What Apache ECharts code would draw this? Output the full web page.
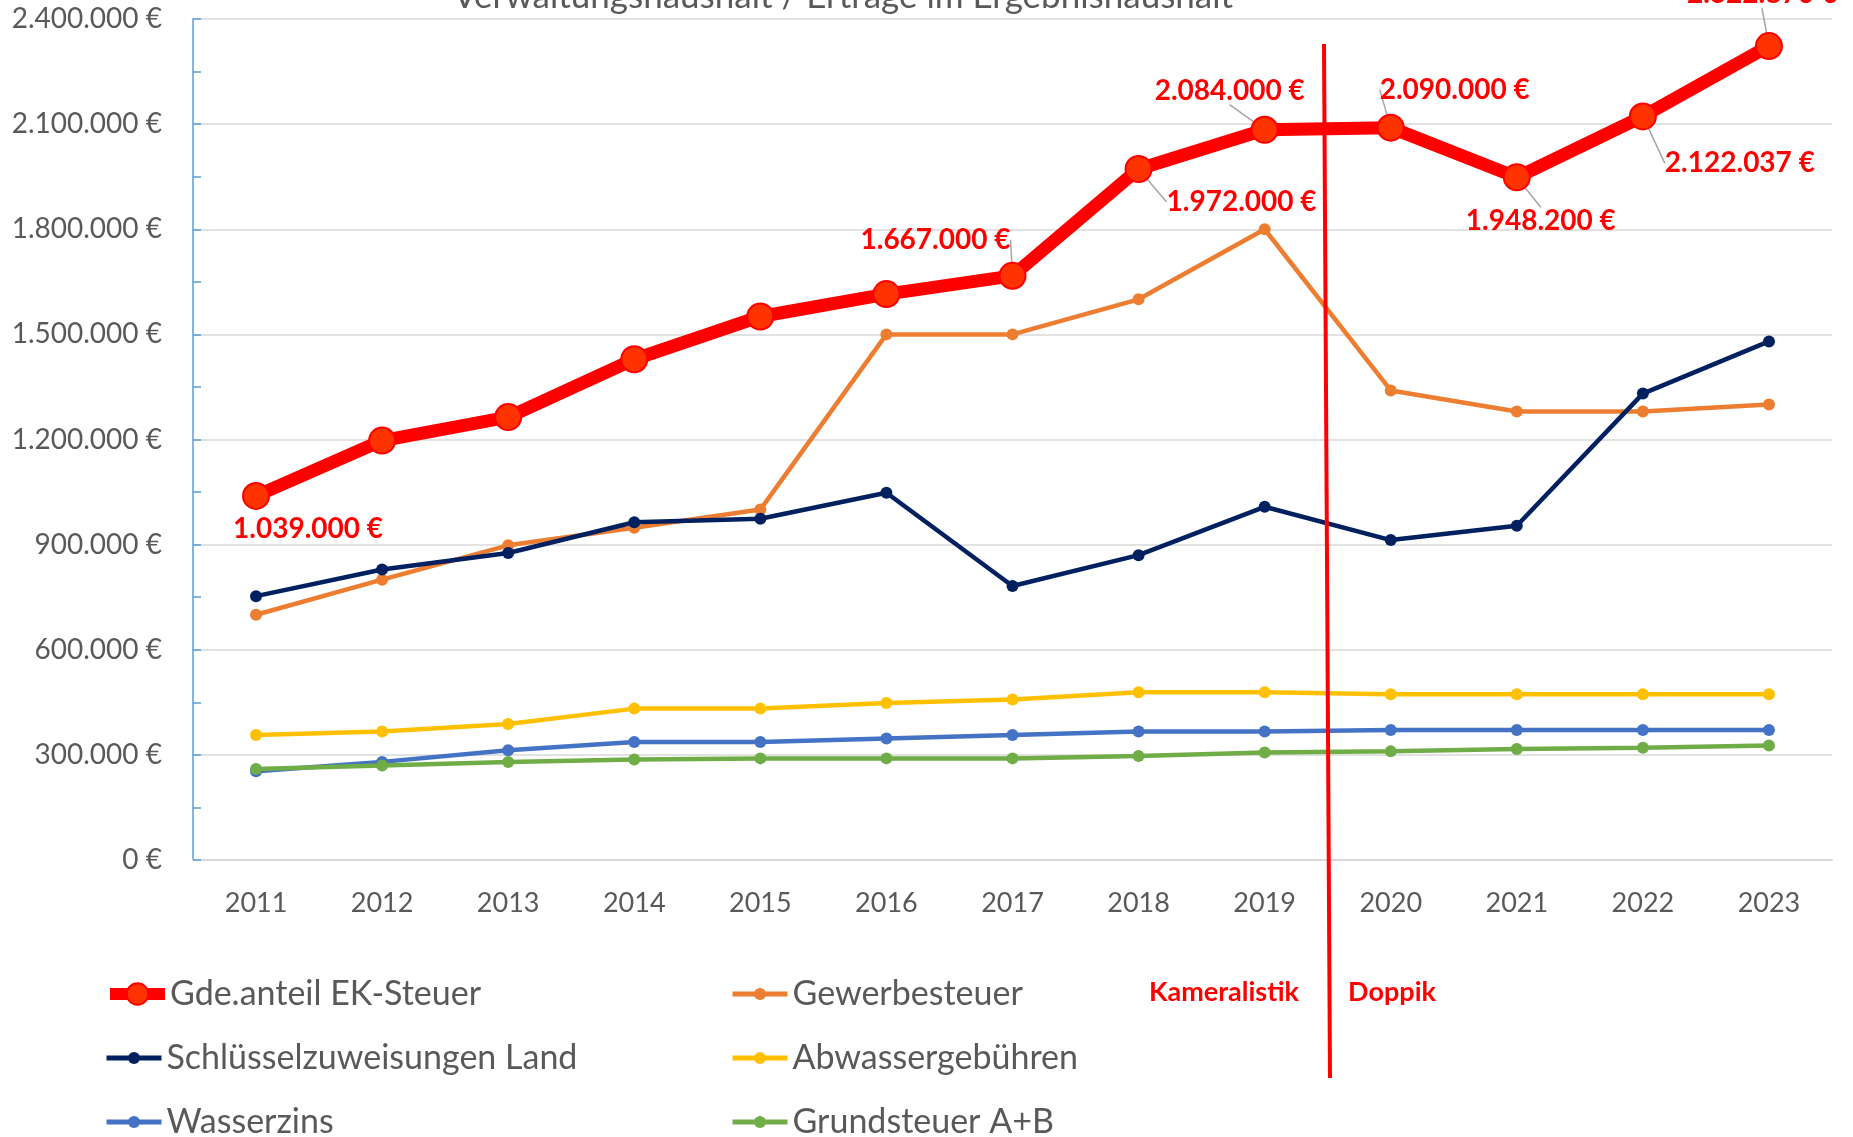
<!DOCTYPE html>
<html lang="de">
<head>
<meta charset="UTF-8">
<title>Erträge</title>
<script src="https://cdn.jsdelivr.net/npm/echarts@6/dist/echarts.min.js"></script>
<style>
  html, body { margin: 0; padding: 0; background: #fff; }
  #main { width: 1853px; height: 1137px; }
</style>
</head>
<body>
<div id="main"></div>
<script type="text/javascript">
// Jahre
var years = ['2011', '2012', '2013', '2014', '2015', '2016', '2017', '2018', '2019', '2020', '2021', '2022', '2023'];

// Werte in Euro
var ekSteuer = [1039000, 1197000, 1264000, 1429000, 1551000, 1615000, 1667000, 1972000, 2084000, 2090000, 1948200, 2122037, 2322870];
var gewerbesteuer = [700000, 800000, 898000, 948000, 1000000, 1500000, 1500000, 1600000, 1800000, 1340000, 1280000, 1280000, 1300000];
var schluessel = [753000, 829000, 876000, 964000, 974000, 1048000, 782000, 870000, 1008000, 913000, 954000, 1331000, 1480000];
var abwasser = [357000, 367000, 388000, 432000, 432000, 448000, 458000, 479000, 479000, 473000, 473000, 473000, 473000];
var wasserzins = [253000, 280000, 313000, 337000, 337000, 347000, 357000, 367000, 367000, 371000, 371000, 371000, 371000];
var grundsteuer = [260000, 270000, 280000, 287000, 290000, 290000, 290000, 297000, 307000, 310000, 317000, 320000, 327000];

// welche Punkte der EK-Steuer beschriftet sind
var ekLabelled = [true, false, false, false, false, false, true, true, true, true, true, true, true];
// Verschiebung der Beschriftung (px)
var ekLabelShift = [[52, 33], [0, 0], [0, 0], [0, 0], [0, 0], [0, 0], [-77, -36], [103, 33], [-35, -39], [64, -38], [24, 44], [97, 47], [-7, -52]];

var chartDom = document.getElementById('main');
var myChart = echarts.init(chartDom);
var option;

function euro(v) {
    return String(v).replace(/\B(?=(\d{3})+(?!\d))/g, '.') + ' €';
}

var FONT = 'Lato';
var GREY = '#595959';

function smallLine(name, color, values) {
    return {
        name: name,
        type: 'line',
        data: values,
        symbol: 'circle',
        symbolSize: 12,
        lineStyle: { color: color, width: 4.5 },
        itemStyle: { color: color },
        emphasis: { disabled: true }
    };
}

// eine Legende pro Eintrag: [Name, Spalte, Zeile]
var legendItems = [
    ['Gde.anteil EK-Steuer', 0, 0],
    ['Gewerbesteuer', 1, 0],
    ['Schlüsselzuweisungen Land', 0, 1],
    ['Abwassergebühren', 1, 1],
    ['Wasserzins', 0, 2],
    ['Grundsteuer A+B', 1, 2]
];

function makeLegend(item, i) {
    var big = i === 0;
    return {
        data: [item[0]],
        left: item[1] === 0 ? 99 : 725,
        top: 969 + item[2] * 64,
        itemWidth: 55,
        itemHeight: big ? 27 : 15,
        lineStyle: { width: big ? 12 : 5 },
        textStyle: { fontFamily: FONT, fontSize: 34, color: GREY, lineHeight: 40 }
    };
}

option = {
    animation: false,
    title: {
        text: 'Verwaltungshaushalt / Erträge im Ergebnishaushalt',
        left: 838,
        textAlign: 'center',
        top: -26,
        textStyle: { fontFamily: FONT, fontSize: 35, fontWeight: 'normal', color: GREY }
    },
    grid: { left: 193, right: 21, top: 19, bottom: 277 },
    legend: legendItems.map(makeLegend),
    xAxis: {
        type: 'category',
        data: years,
        boundaryGap: true,
        axisLine: { lineStyle: { color: '#D9D9D9', width: 2 } },
        axisTick: { show: false },
        axisLabel: { fontFamily: FONT, fontSize: 27, color: GREY, margin: 30 }
    },
    yAxis: {
        type: 'value',
        min: 0,
        max: 2400000,
        interval: 300000,
        axisLine: { show: true, lineStyle: { color: '#5B9BD5', width: 1.5 } },
        axisTick: { show: true, inside: true, length: 8, lineStyle: { color: '#5B9BD5', width: 1.5 } },
        minorTick: { show: true, splitNumber: 2, length: 8, lineStyle: { color: '#5B9BD5', width: 1.5 } },
        splitLine: { lineStyle: { color: '#D9D9D9', width: 1.5 } },
        axisLabel: { fontFamily: FONT, fontSize: 28, color: GREY, margin: 31, formatter: euro }
    },
    series: [
        {
            name: 'Gde.anteil EK-Steuer',
            type: 'line',
            z: 5,
            data: ekSteuer.map(function (v, i) {
                return { value: v, label: { show: ekLabelled[i] }, labelLine: { show: ekLabelled[i] && i > 0 } };
            }),
            symbol: 'circle',
            symbolSize: 26,
            lineStyle: { color: '#FF0000', width: 13 },
            itemStyle: { color: '#FF3300', borderColor: '#FF0000', borderWidth: 2 },
            label: {
                show: true,
                position: 'inside',
                formatter: function (p) { return euro(p.value); },
                fontFamily: FONT,
                fontSize: 28,
                fontWeight: 'bold',
                color: '#FF0000'
            },
            labelLine: { show: true, lineStyle: { color: '#A6A6A6', width: 1.5 } },
            labelLayout: function (p) {
                var s = ekLabelShift[p.dataIndex];
                return { dx: s[0], dy: s[1] };
            },
            emphasis: { disabled: true }
        },
        smallLine('Gewerbesteuer', '#ED7D31', gewerbesteuer),
        smallLine('Schlüsselzuweisungen Land', '#002060', schluessel),
        smallLine('Abwassergebühren', '#FFC000', abwasser),
        smallLine('Wasserzins', '#4472C4', wasserzins),
        smallLine('Grundsteuer A+B', '#70AD47', grundsteuer)
    ],
    graphic: [
        {
            type: 'line',
            z: 100,
            shape: { x1: 1324, y1: 44, x2: 1330, y2: 1078 },
            style: { stroke: '#FF0000', lineWidth: 4 }
        },
        {
            type: 'text',
            z: 100,
            x: 1224,
            y: 992,
            style: { text: 'Kameralistik', fill: '#FF0000', font: 'bold 27px Lato', align: 'center', verticalAlign: 'middle' }
        },
        {
            type: 'text',
            z: 100,
            x: 1392,
            y: 992,
            style: { text: 'Doppik', fill: '#FF0000', font: 'bold 27px Lato', align: 'center', verticalAlign: 'middle' }
        }
    ]
};

option && myChart.setOption(option);
</script>
</body>
</html>
